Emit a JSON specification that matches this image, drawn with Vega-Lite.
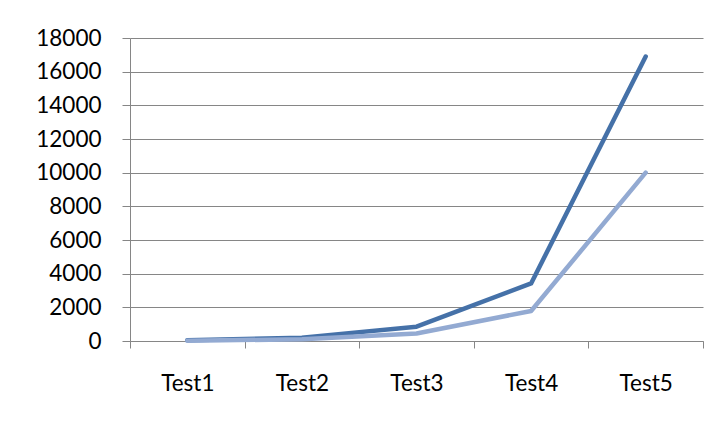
{
  "$schema": "https://vega.github.io/schema/vega-lite/v6.json",
  "width": 573,
  "height": 303,
  "autosize": {"type": "none"},
  "padding": {"left": 130, "top": 38, "right": 20, "bottom": 84},
  "background": "white",
  "config": {"view": {"stroke": null}},
  "data": {
    "values": [
      {"test": "Test1", "series": "Series1", "value": 50},
      {"test": "Test2", "series": "Series1", "value": 200},
      {"test": "Test3", "series": "Series1", "value": 850},
      {"test": "Test4", "series": "Series1", "value": 3420},
      {"test": "Test5", "series": "Series1", "value": 16900},
      {"test": "Test1", "series": "Series2", "value": 20},
      {"test": "Test2", "series": "Series2", "value": 100},
      {"test": "Test3", "series": "Series2", "value": 450},
      {"test": "Test4", "series": "Series2", "value": 1780},
      {"test": "Test5", "series": "Series2", "value": 10000}
    ]
  },
  "mark": {"type": "line", "strokeWidth": 4.5, "strokeCap": "round", "strokeJoin": "round"},
  "encoding": {
    "x": {
      "field": "test",
      "type": "nominal",
      "scale": {"type": "band", "paddingInner": 0, "paddingOuter": 0},
      "axis": {
        "title": null,
        "labelAngle": 0,
        "tickBand": "extent",
        "tickSize": 7,
        "tickColor": "#868686",
        "domainColor": "#868686",
        "grid": false,
        "labelFont": "Lato",
        "labelFontSize": 22.5,
        "labelColor": "#000000",
        "labelPadding": 24
      }
    },
    "y": {
      "field": "value",
      "type": "quantitative",
      "scale": {"domain": [0, 18000], "nice": false},
      "axis": {
        "title": null,
        "values": [0, 2000, 4000, 6000, 8000, 10000, 12000, 14000, 16000, 18000],
        "format": "d",
        "tickSize": 8,
        "tickColor": "#868686",
        "domainColor": "#868686",
        "gridColor": "#868686",
        "gridOpacity": 1,
        "labelFont": "Lato",
        "labelFontSize": 22.5,
        "labelColor": "#000000",
        "labelPadding": 21
      }
    },
    "color": {
      "field": "series",
      "type": "nominal",
      "scale": {"domain": ["Series1", "Series2"], "range": ["#4571A8", "#93AAD2"]},
      "legend": null
    },
    "order": {"field": "test"}
  }
}
